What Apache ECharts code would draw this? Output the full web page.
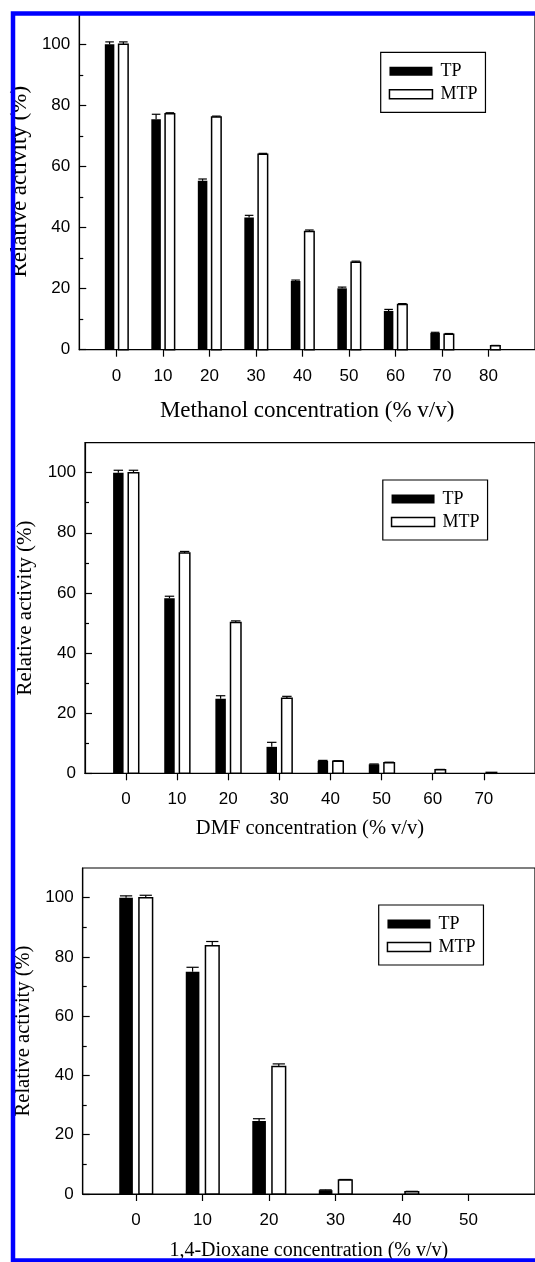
<!DOCTYPE html>
<html>
<head>
<meta charset="UTF-8">
<title>Relative activity vs solvent concentration</title>
<script type="text/javascript" src="https://cdn.jsdelivr.net/npm/echarts@6/dist/echarts.min.js"></script>
<style>
html,body{margin:0;padding:0;background:#fff;}
</style>
</head>
<body>
<div id="main" style="width:535px;height:1262px;"></div>

<script type="text/javascript">
// methanol panel
var methanolConc = [0, 10, 20, 30, 40, 50, 60, 70, 80];
var methanolTP = [100, 75.5, 55.3, 43.3, 22.5, 20.1, 12.7, 5.5, 0];
var methanolTPErr = [0.8, 1.6, 0.6, 0.7, 0.3, 0.4, 0.5, 0.2, 0];
var methanolMTP = [100, 77.3, 76.2, 64.0, 38.7, 28.6, 14.8, 5.1, 1.3];
var methanolMTPErr = [0.8, 0.3, 0.3, 0.3, 0.5, 0.4, 0.3, 0.2, 0.1];

// DMF panel
var dmfConc = [0, 10, 20, 30, 40, 50, 60, 70];
var dmfTP = [100, 58.2, 24.8, 8.8, 4.1, 3.0, 0, 0];
var dmfTPErr = [0.8, 0.7, 1.0, 1.5, 0.2, 0.1, 0, 0];
var dmfMTP = [100, 73.3, 50.2, 25.0, 4.0, 3.5, 1.2, 0.3];
var dmfMTPErr = [0.8, 0.5, 0.5, 0.6, 0.2, 0.2, 0.1, 0];

// 1,4-dioxane panel
var dioxConc = [0, 10, 20, 30, 40, 50];
var dioxTP = [100, 75.0, 24.6, 1.3, 0, 0];
var dioxTPErr = [0.6, 1.5, 0.8, 0.1, 0, 0];
var dioxMTP = [100, 83.8, 43.0, 4.7, 0.8, 0];
var dioxMTPErr = [0.8, 1.4, 0.9, 0.2, 0.1, 0];

var yMajor = [0, 20, 40, 60, 80, 100];
var yMinor = [10, 30, 50, 70, 90];

var mychart = echarts.init(document.getElementById('main'));

function rows(conc, vals, errs) {
  var out = [];
  for (var i = 0; i < conc.length; i++) out.push([conc[i], vals[i], errs[i]]);
  return out;
}

// bar + upper error bar, sizes in axis units so they follow the scale
function barRender(offset, w, filled) {
  return function (params, api) {
    var x = api.value(0), v = api.value(1), e = api.value(2);
    if (!v) return;
    var a = api.coord([x + offset - w / 2, 0]);
    var b = api.coord([x + offset + w / 2, v]);
    var kids = [{
      type: 'rect',
      shape: {x: a[0], y: b[1], width: b[0] - a[0], height: a[1] - b[1]},
      style: filled ? {fill: '#000'} : {fill: '#fff', stroke: '#000', lineWidth: 1.5}
    }];
    if (e > 0) {
      var t = api.coord([x + offset, v + e]);
      var half = (b[0] - a[0]) * 0.45;
      kids.push({type: 'line', shape: {x1: t[0], y1: b[1], x2: t[0], y2: t[1]}, style: {stroke: '#000', lineWidth: 1.2}});
      kids.push({type: 'line', shape: {x1: t[0] - half, y1: t[1], x2: t[0] + half, y2: t[1]}, style: {stroke: '#000', lineWidth: 1.2}});
    }
    return {type: 'group', children: kids};
  };
}

var serif = 'Liberation Serif';
var sans = 'Liberation Sans';

function xAx(idx, max, ticks, name, gap, fs) {
  return {
    type: 'value', gridIndex: idx, min: -8, max: max,
    axisLine: {onZero: false, lineStyle: {color: '#000', width: 1.2}},
    axisTick: {customValues: ticks, length: 7, lineStyle: {color: '#000', width: 1.2}},
    axisLabel: {customValues: ticks, margin: 18, fontSize: 17, color: '#000', fontFamily: sans},
    splitLine: {show: false},
    name: name, nameLocation: 'middle', nameGap: gap,
    nameTextStyle: {fontFamily: serif, fontSize: fs, color: '#000'}
  };
}
function yAx(idx, gap, fs) {
  return {
    type: 'value', gridIndex: idx, min: 0, max: 110, position: 'left',
    axisLine: {onZero: false, lineStyle: {color: '#000', width: 1.2}},
    axisTick: {customValues: yMajor, inside: true, length: 7, lineStyle: {color: '#000', width: 1.2}},
    axisLabel: {customValues: yMajor, margin: 9, fontSize: 17, color: '#000', fontFamily: sans},
    splitLine: {show: false},
    name: 'Relative activity (%)', nameLocation: 'middle', nameGap: gap,
    nameTextStyle: {fontFamily: serif, fontSize: fs, color: '#000'}
  };
}
// second axis only for the small in-between ticks
function yMinorAx(idx) {
  return {
    type: 'value', gridIndex: idx, min: 0, max: 110, position: 'left', offset: 0,
    axisLine: {show: false, onZero: false},
    axisTick: {customValues: yMinor, inside: true, length: 4, lineStyle: {color: '#000', width: 1.2}},
    axisLabel: {show: false}, splitLine: {show: false}
  };
}
function legendAt(left, top) {
  return {
    left: left, top: top, orient: 'vertical',
    padding: [10, 8, 9, 8], borderColor: '#000', borderWidth: 1.2,
    itemWidth: 43, itemHeight: 9, itemGap: 5,
    textStyle: {fontFamily: serif, fontSize: 18, color: '#000', padding: [0, 0, 0, 3]},
    data: [
      {name: 'TP', icon: 'rect', itemStyle: {color: '#000'}},
      {name: 'MTP', icon: 'rect', itemStyle: {color: '#fff', borderColor: '#000', borderWidth: 1.5}}
    ]
  };
}
function pair(idx, conc, tp, tpErr, mtp, mtpErr) {
  return [
    {name: 'TP', type: 'custom', xAxisIndex: idx, yAxisIndex: idx * 2, itemStyle: {color: '#000'},
     renderItem: barRender(-1.48, 2.05, true), encode: {x: 0, y: 1}, data: rows(conc, tp, tpErr)},
    {name: 'MTP', type: 'custom', xAxisIndex: idx, yAxisIndex: idx * 2, itemStyle: {color: '#fff', borderColor: '#000'},
     renderItem: barRender(1.48, 2.05, false), encode: {x: 0, y: 1}, data: rows(conc, mtp, mtpErr)}
  ];
}

var option = {
  animation: false,
  backgroundColor: '#fff',
  grid: [
    {left: 79, top: 13.8, width: 470.4, height: 335.9, show: true, borderColor: '#000', borderWidth: 1.2},
    {left: 85, top: 442.6, width: 463.8, height: 330.7, show: true, borderColor: '#000', borderWidth: 1.2},
    {left: 82.7, top: 868, width: 464, height: 328.5, show: true, borderColor: '#000', borderWidth: 1.2}
  ],
  xAxis: [
    xAx(0, 90, methanolConc, 'Methanol concentration (% v/v)', 50, 23),
    xAx(1, 80, dmfConc, 'DMF concentration (% v/v)', 45, 20.5),
    xAx(2, 60, dioxConc, '1,4-Dioxane concentration (% v/v)', 47, 20)
  ],
  yAxis: [
    yAx(0, 39, 23), yMinorAx(0),
    yAx(1, 49, 21), yMinorAx(1),
    yAx(2, 46, 20.5), yMinorAx(2)
  ],
  legend: [legendAt(380.7, 52.3), legendAt(382.8, 480), legendAt(378.7, 905)],
  series: [].concat(
    pair(0, methanolConc, methanolTP, methanolTPErr, methanolMTP, methanolMTPErr),
    pair(1, dmfConc, dmfTP, dmfTPErr, dmfMTP, dmfMTPErr),
    pair(2, dioxConc, dioxTP, dioxTPErr, dioxMTP, dioxMTPErr)
  ),
  graphic: [{
    type: 'rect', z: 100, silent: true,
    shape: {x: 13, y: 13.5, width: 700, height: 1247},
    style: {fill: 'none', stroke: '#0000ff', lineWidth: 4.5}
  }]
};

mychart.setOption(option);
</script>
</body>
</html>
